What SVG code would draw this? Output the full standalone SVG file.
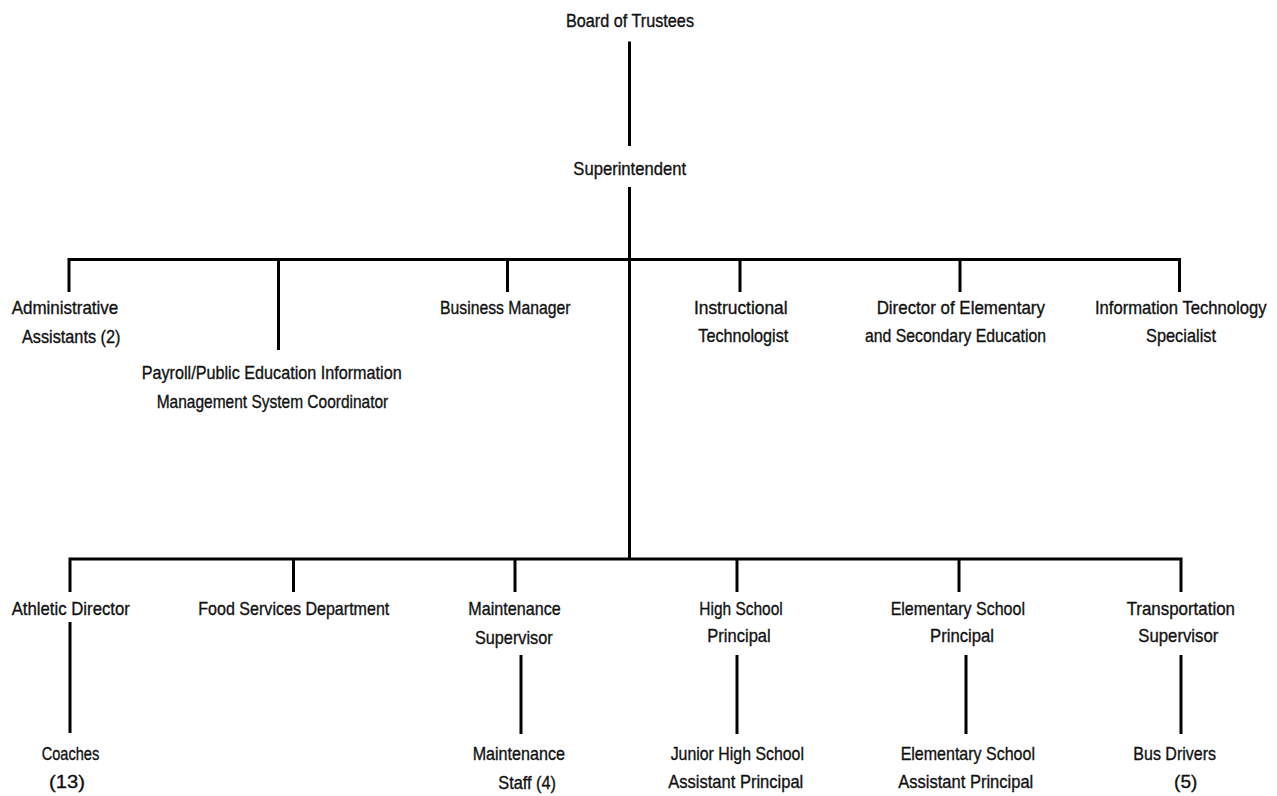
<svg xmlns="http://www.w3.org/2000/svg" width="1277" height="796" viewBox="0 0 1277 796">
<style>
.t{font-family:"Liberation Sans",Arial,sans-serif;font-size:19px;fill:#111;stroke:#111;stroke-width:0.35px;text-anchor:middle;}
.c path{fill:none;stroke:#000;stroke-width:3;stroke-linejoin:miter;}
</style>
<rect width="1277" height="796" fill="#fff"/>
<g id="connectors" class="c">
<path d="M629.5,41.5 V146"/>
<path d="M629.5,187 V559"/>
<path d="M69,292 V259.5 H1179.5 V292"/>
<path d="M278.5,259.5 V350"/>
<path d="M507.5,259.5 V292"/>
<path d="M740,259.5 V292"/>
<path d="M960,259.5 V292"/>
<path d="M70,592 V559 H1181 V592"/>
<path d="M293.5,559 V592"/>
<path d="M515,559 V592"/>
<path d="M737,559 V592"/>
<path d="M959,559 V592"/>
<path d="M70,622 V733"/>
<path d="M521,655 V734"/>
<path d="M737,655 V734"/>
<path d="M966,655 V734"/>
<path d="M1181,655 V734"/>
</g>
<g id="board"><text class="t" x="630" y="26.5" textLength="128" lengthAdjust="spacingAndGlyphs">Board of Trustees</text></g>
<g id="superintendent"><text class="t" x="629.7" y="174.5" textLength="112.7" lengthAdjust="spacingAndGlyphs">Superintendent</text></g>
<g id="admin-assistants">
<text class="t" x="65" y="313.5" textLength="106.6" lengthAdjust="spacingAndGlyphs">Administrative</text>
<text class="t" x="71.2" y="343.3" textLength="98.5" lengthAdjust="spacingAndGlyphs">Assistants (2)</text>
</g>
<g id="payroll">
<text class="t" x="271.7" y="378.5" textLength="260" lengthAdjust="spacingAndGlyphs">Payroll/Public Education Information</text>
<text class="t" x="272.5" y="408.3" textLength="231.6" lengthAdjust="spacingAndGlyphs">Management System Coordinator</text>
</g>
<g id="business-manager"><text class="t" x="505.3" y="313.5" textLength="130.7" lengthAdjust="spacingAndGlyphs">Business Manager</text></g>
<g id="instructional-technologist">
<text class="t" x="740.8" y="313.5" textLength="93.7" lengthAdjust="spacingAndGlyphs">Instructional</text>
<text class="t" x="743.3" y="341.7" textLength="90" lengthAdjust="spacingAndGlyphs">Technologist</text>
</g>
<g id="director-education">
<text class="t" x="960.8" y="313.5" textLength="168.3" lengthAdjust="spacingAndGlyphs">Director of Elementary</text>
<text class="t" x="955.5" y="341.7" textLength="181" lengthAdjust="spacingAndGlyphs">and Secondary Education</text>
</g>
<g id="it-specialist">
<text class="t" x="1266.6" y="313.5" textLength="171.7" lengthAdjust="spacingAndGlyphs" style="text-anchor:end">Information Technology</text>
<text class="t" x="1181" y="341.7" textLength="70" lengthAdjust="spacingAndGlyphs">Specialist</text>
</g>
<g id="athletic-director"><text class="t" x="70.8" y="615" textLength="118.3" lengthAdjust="spacingAndGlyphs">Athletic Director</text></g>
<g id="food-services"><text class="t" x="293.8" y="615" textLength="191" lengthAdjust="spacingAndGlyphs">Food Services Department</text></g>
<g id="maintenance-supervisor">
<text class="t" x="514.5" y="615" textLength="92.4" lengthAdjust="spacingAndGlyphs">Maintenance</text>
<text class="t" x="513.8" y="644" textLength="77.7" lengthAdjust="spacingAndGlyphs">Supervisor</text>
</g>
<g id="hs-principal">
<text class="t" x="741" y="615" textLength="83.4" lengthAdjust="spacingAndGlyphs">High School</text>
<text class="t" x="739" y="642" textLength="63.4" lengthAdjust="spacingAndGlyphs">Principal</text>
</g>
<g id="es-principal">
<text class="t" x="957.8" y="615" textLength="134.3" lengthAdjust="spacingAndGlyphs">Elementary School</text>
<text class="t" x="962" y="642" textLength="64" lengthAdjust="spacingAndGlyphs">Principal</text>
</g>
<g id="transportation-supervisor">
<text class="t" x="1180.8" y="615" textLength="108.3" lengthAdjust="spacingAndGlyphs">Transportation</text>
<text class="t" x="1178.3" y="642" textLength="80" lengthAdjust="spacingAndGlyphs">Supervisor</text>
</g>
<g id="coaches">
<text class="t" x="70.5" y="760" textLength="57.6" lengthAdjust="spacingAndGlyphs">Coaches</text>
<text class="t" x="67" y="787.5" textLength="36" lengthAdjust="spacingAndGlyphs">(13)</text>
</g>
<g id="maintenance-staff">
<text class="t" x="518.8" y="759.5" textLength="92.3" lengthAdjust="spacingAndGlyphs">Maintenance</text>
<text class="t" x="527.2" y="788.5" textLength="57.7" lengthAdjust="spacingAndGlyphs">Staff (4)</text>
</g>
<g id="jh-assistant-principal">
<text class="t" x="737.3" y="760" textLength="133.3" lengthAdjust="spacingAndGlyphs">Junior High School</text>
<text class="t" x="735.8" y="788" textLength="135" lengthAdjust="spacingAndGlyphs">Assistant Principal</text>
</g>
<g id="es-assistant-principal">
<text class="t" x="967.8" y="760" textLength="134.3" lengthAdjust="spacingAndGlyphs">Elementary School</text>
<text class="t" x="965.8" y="788" textLength="135" lengthAdjust="spacingAndGlyphs">Assistant Principal</text>
</g>
<g id="bus-drivers">
<text class="t" x="1174.7" y="760" textLength="82.7" lengthAdjust="spacingAndGlyphs">Bus Drivers</text>
<text class="t" x="1185.7" y="787.5" textLength="23.3" lengthAdjust="spacingAndGlyphs">(5)</text>
</g>
</svg>
